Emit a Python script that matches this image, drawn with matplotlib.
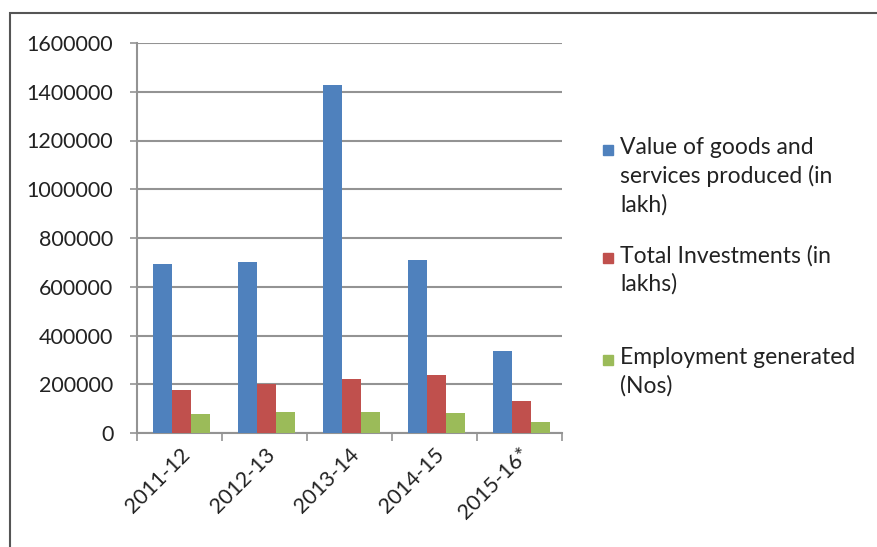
import matplotlib
matplotlib.use("Agg")
import matplotlib.pyplot as plt
from matplotlib.patches import Rectangle
import numpy as np

categories = ["2011-12", "2012-13", "2013-14", "2014-15", "2015-16*"]
series_names = ["Value of goods and\nservices produced (in\nlakh)",
                "Total Investments (in\nlakhs)",
                "Employment generated\n(Nos)"]
value_goods = [693000, 702000, 1426000, 709000, 336000]
investments = [176000, 201000, 221000, 239000, 131000]
employment = [77000, 87000, 86000, 81000, 44000]
yticks = [0, 200000, 400000, 600000, 800000, 1000000, 1200000, 1400000, 1600000]

colors = ["#4F81BD", "#C0504D", "#9BBB59"]
W, H = 877, 547
plt.rcParams['font.family'] = ['Lato', 'DejaVu Sans']

fig = plt.figure(figsize=(W/100, H/100), dpi=100)
fig.patch.set_facecolor("white")

# chart border
fig.patches.append(Rectangle((10/W, -0.1), 1.2, 1 - 13/H + 0.1, transform=fig.transFigure,
                             fill=False, edgecolor="#555555", linewidth=1.5, zorder=0))

ax = fig.add_axes([137/W, 1 - 433/H, 425/W, 390/H])
x = np.arange(len(categories))
w = 0.225
for i, (vals, c) in enumerate(zip([value_goods, investments, employment], colors)):
    ax.bar(x + (i - 1) * w + 0.02, vals, width=w, color=c, zorder=3)

ax.set_xlim(-0.5, len(categories) - 0.5)
ax.set_ylim(0, 1600000)
ax.set_yticks(yticks)
ax.set_yticklabels([str(v) for v in yticks], fontsize=15.5, color="#222222")
ax.yaxis.grid(True, color="#939393", linewidth=1.5, zorder=0)
ax.tick_params(axis='y', length=5, color="#939393", pad=12, width=1.2)

ax.set_xticks(x)
ax.set_xticklabels(categories, rotation=45, ha='right', rotation_mode='anchor',
                   fontsize=15.5, color="#222222")
ax.tick_params(axis='x', length=0, pad=8)
ax.set_xticks(np.arange(-0.5, len(categories)), minor=True)
ax.tick_params(axis='x', which='minor', length=6, color="#939393", width=1.2)

for s in ["top", "right"]:
    ax.spines[s].set_visible(False)
for s in ["left", "bottom"]:
    ax.spines[s].set_color("#939393")
    ax.spines[s].set_linewidth(1.5)

# legend
entry_tops = [150, 258, 360]
for name, c, yt in zip(series_names, colors, entry_tops):
    fig.patches.append(Rectangle((603/W, 1 - (yt + 5)/H), 10/W, 10/H,
                                 transform=fig.transFigure, color=c))
    fig.text(620/W, 1 - (yt - 13)/H, name, fontsize=16.5, color="#222222",
             va='top', ha='left', linespacing=1.4)

fig.savefig("out.png", dpi=100)
